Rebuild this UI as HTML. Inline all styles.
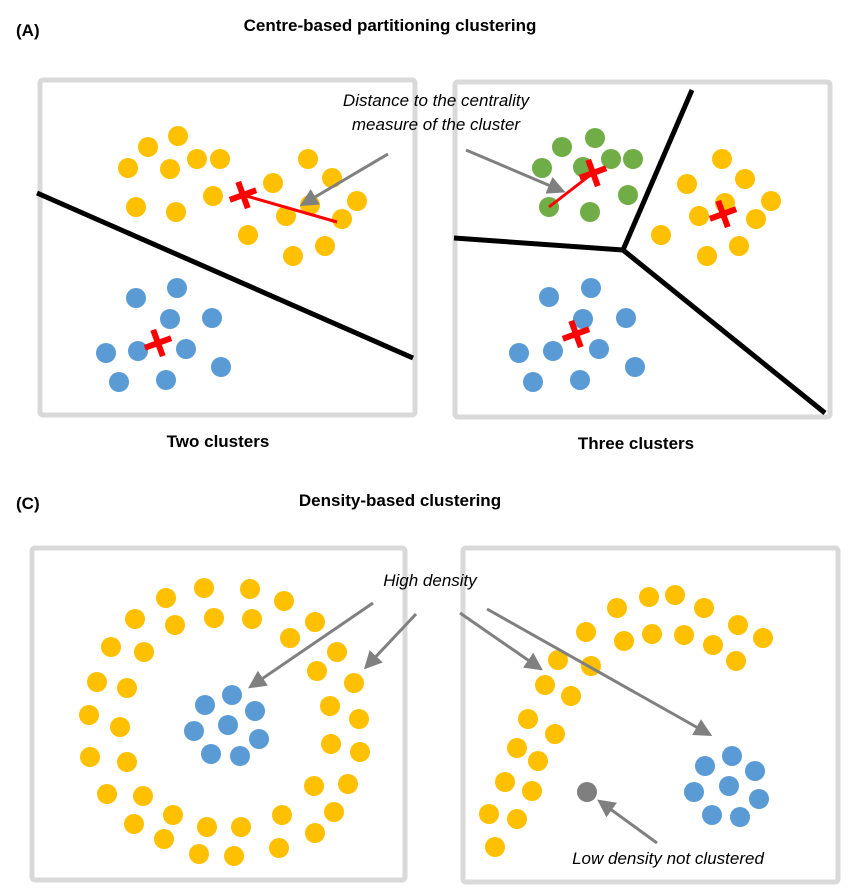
<!DOCTYPE html>
<html><head><meta charset="utf-8"><style>
html,body{margin:0;padding:0;background:#fff;}
svg{display:block;font-family:"Liberation Sans",Arial,sans-serif;}
.t{font-weight:bold;font-size:17px;fill:#000;}
.i{font-style:italic;font-size:17px;fill:#000;}
</style></head><body>
<svg id="fig" width="858" height="888" viewBox="0 0 858 888" xmlns="http://www.w3.org/2000/svg">
<defs><marker id="ah" markerWidth="6" markerHeight="6" refX="4" refY="3" orient="auto" markerUnits="strokeWidth"><path d="M0,0 L6,3 L0,6 Z" fill="#808080"/></marker></defs>
<text class="t" x="16" y="36">(A)</text>
<text class="t" x="390" y="31" text-anchor="middle">Centre-based partitioning clustering</text>
<text class="t" x="218" y="447" text-anchor="middle">Two clusters</text>
<text class="t" x="636" y="449" text-anchor="middle">Three clusters</text>
<text class="t" x="16" y="509">(C)</text>
<text class="t" x="400" y="506" text-anchor="middle">Density-based clustering</text>
<g id="frames"></g><g id="lines"></g><g id="dots"></g><g id="marks"></g>
<text class="i" x="436" y="106" text-anchor="middle">Distance to the centrality</text>
<text class="i" x="436" y="130" text-anchor="middle">measure of the cluster</text>
<text class="i" x="430" y="586" text-anchor="middle">High density</text>
<text class="i" x="668" y="864" text-anchor="middle">Low density not clustered</text>
</svg>
<script>
const NS="http://www.w3.org/2000/svg";
const yellowA1=[[178,136],[148,147],[128,168],[170,169],[197,159],[220,159],[136,207],[176,212],[213,196],[308,159],[332,178],[273,183],[310,205],[286,216],[357,201],[342,219],[248,235],[293,256],[325,246]];
const blueA1=[[136,298],[177,288],[170,319],[212,318],[106,353],[138,351],[186,349],[221,367],[119,382],[166,380]];
const greenA2=[[562,147],[595,138],[542,168],[583,167],[611,159],[633,159],[628,195],[549,207],[590,212]];
const yellowA2=[[722,159],[745,179],[687,184],[771,201],[699,216],[725,203],[756,219],[661,235],[739,246],[707,256]];
const blueA2=[[549,297],[591,288],[583,319],[626,318],[519,353],[553,351],[599,349],[635,367],[533,382],[580,380]];
const yellowC1=[[166,598],[204,588],[250,589],[284,601],[135,619],[175,625],[214,618],[252,619],[315,622],[290,638],[111,647],[144,652],[337,652],[317,671],[354,683],[97,682],[127,688],[330,706],[359,719],[89,715],[120,727],[331,744],[360,752],[90,757],[127,762],[314,786],[348,784],[107,794],[143,796],[334,812],[134,824],[173,815],[282,815],[207,827],[241,827],[164,839],[315,833],[199,854],[234,856],[279,848]];
const blueC1=[[232,695],[205,705],[255,711],[228,725],[194,731],[259,739],[211,754],[240,756]];
const yellowC2=[[617,608],[649,597],[675,595],[704,608],[738,625],[763,638],[586,632],[624,641],[652,634],[684,635],[713,645],[736,661],[558,660],[591,666],[545,685],[571,696],[528,719],[555,734],[517,748],[538,761],[505,782],[532,791],[489,814],[517,819],[495,847]];
const blueC2=[[732,756],[705,766],[755,771],[729,786],[694,792],[759,799],[712,815],[740,817]];
const noiseC2=[[587,792]];
const centroids=[[243,195],[158,343],[593,173],[723,214],[576,334]];
const frames=[[40,80,415,415],[455,82,830,417],[32,548,405,880],[463,548,838,882]];
const boundaries=[[[37,193],[413,358]],[[623,250],[692,90]],[[623,250],[454,238]],[[623,250],[825,413]]];
const redLines=[[[243,195],[337,222]],[[593,173],[549,207]]];
const arrows=[[[388,154],[305,203]],[[466,150],[560,190]],[[373,603],[253,685]],[[416,614],[368,665]],[[460,613],[538,667]],[[487,609],[707,733]],[[657,843],[602,803]]];
function mk(tag,attrs,parent){const e=document.createElementNS(NS,tag);for(const k in attrs)e.setAttribute(k,attrs[k]);document.getElementById(parent).appendChild(e);return e;}
frames.forEach(f=>{const e=mk('rect',{x:f[0],y:f[1],width:f[2]-f[0],height:f[3]-f[1],fill:'#fff',stroke:'#d9d9d9','stroke-width':5,rx:3},'frames');

});
boundaries.forEach(b=>{const e=mk('line',{x1:b[0][0],y1:b[0][1],x2:b[1][0],y2:b[1][1],stroke:'#000','stroke-width':5},'lines');

});
function dots(arr,color,name){arr.forEach(p=>{const e=mk('circle',{cx:p[0],cy:p[1],r:10,fill:color},'dots');

});}
dots(yellowA1,'#ffc000','yellow-point');dots(blueA1,'#5b9bd5','blue-point');
dots(greenA2,'#70ad47','green-point');dots(yellowA2,'#ffc000','yellow-point');dots(blueA2,'#5b9bd5','blue-point');
dots(yellowC1,'#ffc000','yellow-point');dots(blueC1,'#5b9bd5','blue-point');
dots(yellowC2,'#ffc000','yellow-point');dots(blueC2,'#5b9bd5','blue-point');dots(noiseC2,'#7f7f7f','noise-point');
redLines.forEach(l=>{const e=mk('line',{x1:l[0][0],y1:l[0][1],x2:l[1][0],y2:l[1][1],stroke:'#ff0000','stroke-width':3},'marks');

});
centroids.forEach(c=>{const g=mk('g',{transform:`translate(${c[0]},${c[1]}) rotate(-20)`},'marks');


const a=document.createElementNS(NS,'path');a.setAttribute('d','M-14,0 L14,0 M0,-14 L0,14');a.setAttribute('stroke','#ff0000');a.setAttribute('stroke-width',6);g.appendChild(a);});
arrows.forEach(a=>{const e=mk('line',{x1:a[0][0],y1:a[0][1],x2:a[1][0],y2:a[1][1],stroke:'#808080','stroke-width':3,'marker-end':'url(#ah)'},'marks');

});
</script>
</body></html>
